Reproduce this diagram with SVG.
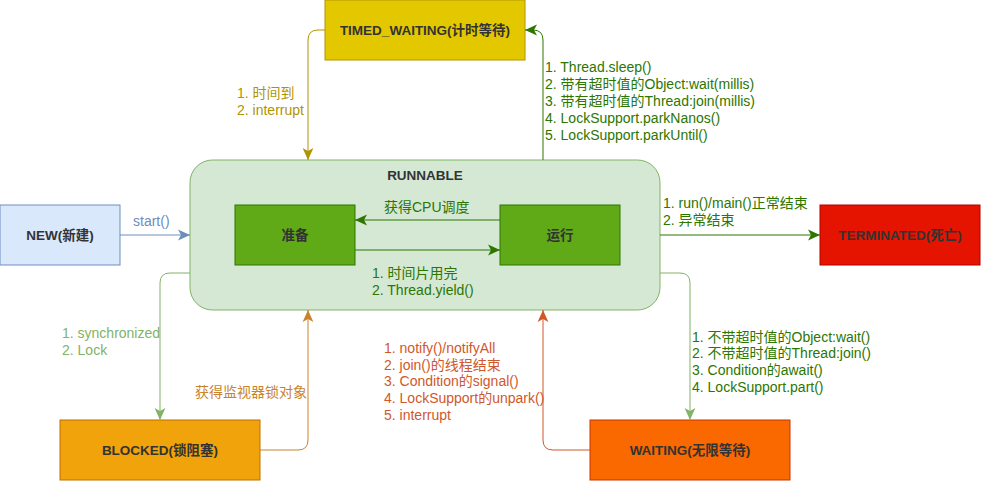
<svg xmlns="http://www.w3.org/2000/svg" width="981" height="481" viewBox="0 0 981 481">
<style>
text{font-family:"Liberation Sans","Noto Sans CJK SC",sans-serif;font-size:14px}
.n{font-weight:bold;font-size:13.5px;fill:#333333;text-anchor:middle}
.e{fill:none;stroke-width:1}
</style>
<defs>
<marker id="aBlue" markerUnits="userSpaceOnUse" markerWidth="12" markerHeight="12" refX="10" refY="5" orient="auto" viewBox="0 0 10 10"><path d="M0,0.5 L10,5 L0,9.5 L2.5,5 z" fill="#6c8ebf"/></marker>
<marker id="aGold" markerUnits="userSpaceOnUse" markerWidth="12" markerHeight="12" refX="10" refY="5" orient="auto" viewBox="0 0 10 10"><path d="M0,0.5 L10,5 L0,9.5 L2.5,5 z" fill="#B09500"/></marker>
<marker id="aDG" markerUnits="userSpaceOnUse" markerWidth="12" markerHeight="12" refX="10" refY="5" orient="auto" viewBox="0 0 10 10"><path d="M0,0.5 L10,5 L0,9.5 L2.5,5 z" fill="#2D7600"/></marker>
<marker id="aLG" markerUnits="userSpaceOnUse" markerWidth="12" markerHeight="12" refX="10" refY="5" orient="auto" viewBox="0 0 10 10"><path d="M0,0.5 L10,5 L0,9.5 L2.5,5 z" fill="#82b366"/></marker>
<marker id="aOr" markerUnits="userSpaceOnUse" markerWidth="12" markerHeight="12" refX="10" refY="5" orient="auto" viewBox="0 0 10 10"><path d="M0,0.5 L10,5 L0,9.5 L2.5,5 z" fill="#c9832c"/></marker>
<marker id="aRd" markerUnits="userSpaceOnUse" markerWidth="12" markerHeight="12" refX="10" refY="5" orient="auto" viewBox="0 0 10 10"><path d="M0,0.5 L10,5 L0,9.5 L2.5,5 z" fill="#d0582b"/></marker>
</defs>
<rect width="981" height="481" fill="#ffffff"/>

<g id="runnable">
<rect x="190" y="160" width="470" height="150" rx="22.5" ry="22.5" fill="#d5e8d4" stroke="#82b366"/>
<text class="n" x="425" y="180">RUNNABLE</text>
</g>
<g id="timed_waiting">
<rect x="325" y="0" width="200" height="60" fill="#e3c800" stroke="#B09500"/>
<text class="n" x="425" y="35">TIMED_WAITING(计时等待)</text>
</g>
<g id="ready">
<rect x="235" y="205" width="120" height="60" fill="#60a917" stroke="#2D7600"/>
<text class="n" x="295" y="240">准备</text>
</g>
<g id="running">
<rect x="500" y="205" width="120" height="60" fill="#60a917" stroke="#2D7600"/>
<text class="n" x="560" y="240">运行</text>
</g>
<g id="new">
<rect x="0" y="205" width="120" height="60" fill="#dae8fc" stroke="#6c8ebf"/>
<text class="n" x="60" y="240">NEW(新建)</text>
</g>
<g id="terminated">
<rect x="820" y="205" width="160" height="60" fill="#e51400" stroke="#B20000"/>
<text class="n" x="900" y="240">TERMINATED(死亡)</text>
</g>
<g id="blocked">
<rect x="60" y="420" width="200" height="60" fill="#f0a30a" stroke="#BD7000"/>
<text class="n" x="160" y="455">BLOCKED(锁阻塞)</text>
</g>
<g id="waiting">
<rect x="590" y="420" width="200" height="60" fill="#fa6800" stroke="#C73500"/>
<text class="n" x="690" y="455">WAITING(无限等待)</text>
</g>

<g id="connectors">
<path class="e" d="M325,30 H318 Q308,30 308,40 V160" stroke="#B09500" marker-end="url(#aGold)"/>
<path class="e" d="M543,160 V40 Q543,30 533,30 H525" stroke="#2D7600" marker-end="url(#aDG)"/>
<path class="e" d="M500,220 H355" stroke="#2D7600" marker-end="url(#aDG)"/>
<path class="e" d="M355,250 H500" stroke="#2D7600" marker-end="url(#aDG)"/>
<path class="e" d="M120,235 H190" stroke="#6c8ebf" marker-end="url(#aBlue)"/>
<path class="e" d="M660,235 H820" stroke="#2D7600" marker-end="url(#aDG)"/>
<path class="e" d="M190,273 H170 Q160,273 160,283 V420" stroke="#82b366" marker-end="url(#aLG)"/>
<path class="e" d="M260,450 H298 Q308,450 308,440 V310" stroke="#c9832c" stroke-width="1.5" marker-end="url(#aOr)"/>
<path class="e" d="M660,273 H680 Q690,273 690,283 V420" stroke="#82b366" marker-end="url(#aLG)"/>
<path class="e" d="M590,450 H553 Q543,450 543,440 V310" stroke="#d0582b" stroke-width="1.5" marker-end="url(#aRd)"/>

<g fill="#B09500">
<text x="237" y="98">1. 时间到</text>
<text x="237" y="115">2. interrupt</text>
</g>
<g fill="#2D7600">
<text x="545" y="72">1. Thread.sleep()</text>
<text x="545" y="89">2. 带有超时值的Object:wait(millis)</text>
<text x="545" y="106">3. 带有超时值的Thread:join(millis)</text>
<text x="545" y="123">4. LockSupport.parkNanos()</text>
<text x="545" y="140">5. LockSupport.parkUntil()</text>
</g>
<g fill="#2D7600">
<text x="384" y="212">获得CPU调度</text>
<text x="372" y="278">1. 时间片用完</text>
<text x="372" y="295">2. Thread.yield()</text>
<text x="663" y="208">1. run()/main()正常结束</text>
<text x="663" y="225">2. 异常结束</text>
</g>
<text x="133" y="226" fill="#6c8ebf">start()</text>
<g fill="#82b366">
<text x="62" y="338">1. synchronized</text>
<text x="62" y="355">2. Lock</text>
</g>
<text x="307" y="397" fill="#c9832c" text-anchor="end">获得监视器锁对象</text>
<g fill="#d0582b">
<text x="384" y="353">1. notify()/notifyAll</text>
<text x="384" y="370">2. join()的线程结束</text>
<text x="384" y="386">3. Condition的signal()</text>
<text x="384" y="403">4. LockSupport的unpark()</text>
<text x="384" y="420">5. interrupt</text>
</g>
<g fill="#2D7600">
<text x="692" y="342">1. 不带超时值的Object:wait()</text>
<text x="692" y="358">2. 不带超时值的Thread:join()</text>
<text x="692" y="375">3. Condition的await()</text>
<text x="692" y="392">4. LockSupport.part()</text>
</g>
</g>
</svg>
